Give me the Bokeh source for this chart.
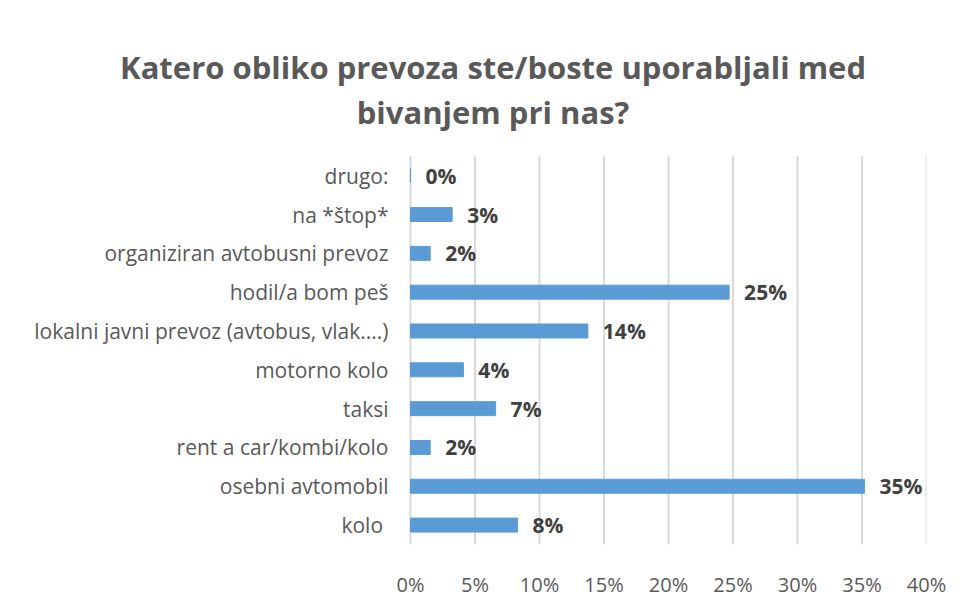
from bokeh.plotting import figure
from bokeh.models import ColumnDataSource, NumeralTickFormatter, FixedTicker, Range1d
from bokeh.core.properties import value
from bokeh.embed import file_html
from bokeh.resources import INLINE

categories = ["kolo ", "osebni avtomobil", "rent a car/kombi/kolo", "taksi", "motorno kolo",
              "lokalni javni prevoz (avtobus, vlak....)", "hodil/a bom peš",
              "organiziran avtobusni prevoz", "na *štop*", "drugo:"]
shares = [0.083, 0.352, 0.0153, 0.066, 0.041, 0.1375, 0.247, 0.0153, 0.0323, 0.0]
ticks = [0, 0.05, 0.10, 0.15, 0.20, 0.25, 0.30, 0.35, 0.40]
title_lines = ["Katero obliko prevoza ste/boste uporabljali med", "bivanjem pri nas?"]

pos = list(range(len(categories)))
labels = ["{:.0f}%".format(v * 100) for v in shares]
src = ColumnDataSource(dict(pos=pos, val=shares, lab=labels, cat=categories,
                            zero=[0.0] * len(categories)))

W, H = 956, 600
n = len(categories)
# the frame spans the whole width so the title and category labels can sit left of 0%
p = figure(width=W, height=H, x_range=Range1d(-0.3178, 0.40), y_range=Range1d(-0.5, n - 1 + 4.513),
           output_backend="svg", toolbar_location=None,
           min_border_left=0, min_border_right=W - 926, min_border_bottom=H - 553,
           min_border_top=0)

# vertical gridlines limited to the category band
p.segment(x0=ticks, x1=ticks, y0=[-0.5] * len(ticks), y1=[n - 0.5] * len(ticks),
          line_color="#d9d9d9", line_width=2)

p.hbar(y="pos", right="val", left=0, height=0.36, source=src, color="#5B9BD5")
p.text(x="val", y="pos", text="lab", source=src, x_offset=15,
       text_font=value("Open Sans"), text_font_style="bold", text_font_size="21px",
       text_color="#404040", text_baseline="middle", text_align="left")

# category labels (right-aligned against the 0% line)
p.text(x="zero", y="pos", text="cat", source=src, x_offset=-22,
       text_font=value("Open Sans"), text_font_size="21px",
       text_color="#595959", text_baseline="middle", text_align="right")

# two-line chart title, centred over the whole chart area
p.text(x=[0.064, 0.064], y=[n - 1 + 2.789, n - 1 + 1.648], text=title_lines,
       text_font=value("Open Sans"), text_font_style="bold", text_font_size="31px",
       text_color="#595959", text_baseline="alphabetic", text_align="center")

p.xaxis.ticker = FixedTicker(ticks=ticks)
p.xaxis.formatter = NumeralTickFormatter(format="0%")
p.xaxis.axis_line_color = None
p.xaxis.major_tick_line_color = None
p.xaxis.minor_tick_line_color = None
p.xaxis.major_label_text_font = "Open Sans"
p.xaxis.major_label_text_font_size = "20px"
p.xaxis.major_label_text_color = "#595959"
p.xaxis.major_label_standoff = 20

p.yaxis.visible = False
p.xgrid.grid_line_color = None
p.ygrid.grid_line_color = None
p.outline_line_color = None

open("out.html", "w").write(file_html(p, INLINE))
